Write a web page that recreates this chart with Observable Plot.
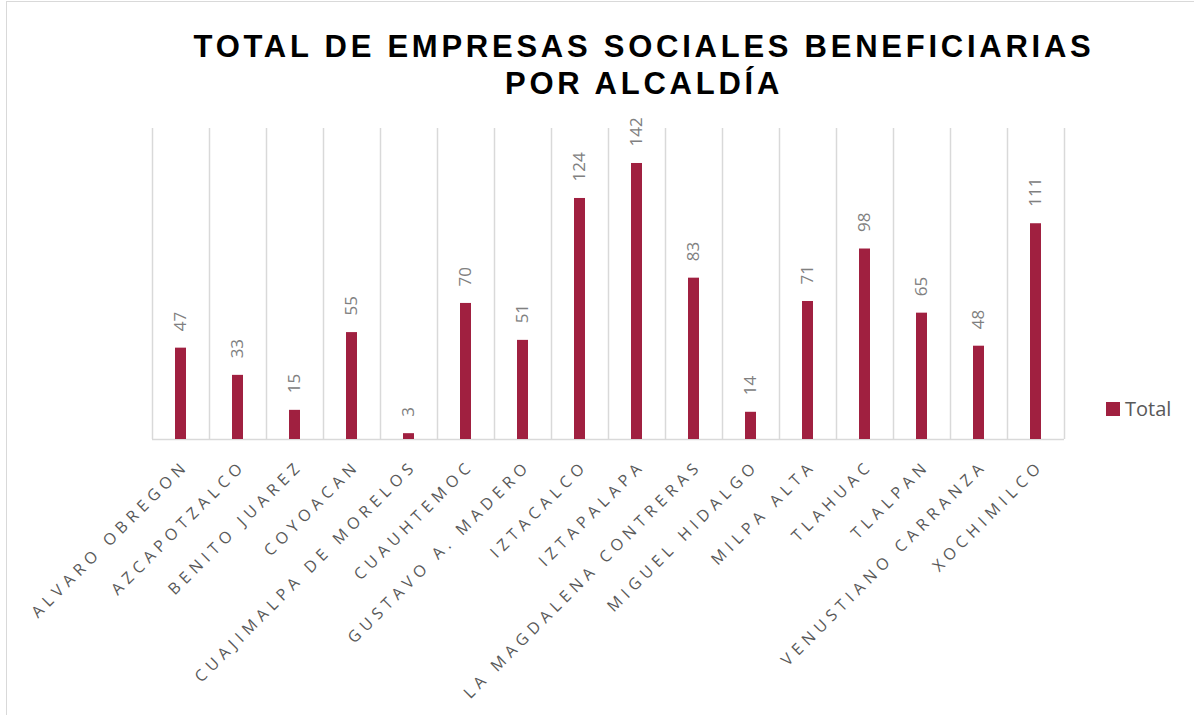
<!DOCTYPE html>
<html>
<head>
<meta charset="utf-8">
<script src="https://cdn.jsdelivr.net/npm/d3@7"></script>
<script src="https://cdn.jsdelivr.net/npm/@observablehq/plot@0.6"></script>
<style>
  body { margin: 0; background: #fff; }
  #wrap { position: relative; width: 1194px; height: 715px; overflow: hidden; font-family: "Open Sans", sans-serif; }
  #border { position: absolute; left: 6px; top: 1px; width: 1300px; height: 800px; border: 1.5px solid #d9d9d9; box-sizing: border-box; pointer-events: none; }
  #title { position: relative; height: 100px; width: 1288px; text-align: center; box-sizing: border-box; padding-top: 28px;
           font-family: "Liberation Sans", Arial, sans-serif; font-weight: bold; font-size: 31px; line-height: 37px; letter-spacing: 3.75px; color: #000; }
  #legend { position: absolute; left: 1106px; top: 395px; display: flex; align-items: center; font-size: 20px; color: #595959; }
  #legend .sw { width: 14px; height: 14px; background: #A02040; margin-right: 5px; }
  g[aria-description="xlabels"] text { letter-spacing: 5.2px; }
</style>
</head>
<body>
<div id="wrap">
  <div id="border"></div>
  <div id="title">TOTAL DE EMPRESAS SOCIALES BENEFICIARIAS<br>POR ALCALDÍA</div>
  <div id="chart"></div>
  <div id="legend"><div class="sw"></div><span>Total</span></div>
</div>
<script>
const names = ["ALVARO OBREGON","AZCAPOTZALCO","BENITO JUAREZ","COYOACAN","CUAJIMALPA DE MORELOS","CUAUHTEMOC","GUSTAVO A. MADERO","IZTACALCO","IZTAPALAPA","LA MAGDALENA CONTRERAS","MIGUEL HIDALGO","MILPA ALTA","TLAHUAC","TLALPAN","VENUSTIANO CARRANZA","XOCHIMILCO"];
const values = [47,33,15,55,3,70,51,124,142,83,14,71,98,65,48,111];
const yMax = 160;
const barColor = "#A02040";

const data = names.map((n, i) => ({name: n, value: values[i]}));
const W = 1194, H = 615, mL = 152, mR = 130;
const bw = (W - mL - mR) / names.length;

const chart = Plot.plot({
  width: W, height: H,
  marginTop: 28, marginBottom: 276, marginLeft: mL, marginRight: mR,
  x: {domain: names, padding: 0, axis: null},
  y: {domain: [0, yMax], axis: null},
  marks: [
    Plot.ruleX(names, {x: d => d, dx: -bw / 2, y1: 0, y2: yMax, stroke: "#d9d9d9", strokeWidth: 1.5}),
    Plot.ruleX([names[names.length - 1]], {x: d => d, dx: bw / 2, y1: 0, y2: yMax, stroke: "#d9d9d9", strokeWidth: 1.5}),
    Plot.ruleY([0], {stroke: "#d9d9d9", strokeWidth: 1.5}),
    Plot.barY(data, {x: "name", y: "value", fill: barColor, insetLeft: 23, insetRight: 23}),
    Plot.text(data, {x: "name", y: "value", text: d => String(d.value), rotate: -90, textAnchor: "start", dy: -17,
      fill: "#808080", fontSize: 17, fontFamily: "Open Sans"}),
    Plot.text(names, {x: d => d, y: 0, text: d => d, rotate: -45, textAnchor: "end", lineAnchor: "top", dx: 1, dy: 19,
      fill: "#595959", fontSize: 16, fontFamily: "Open Sans", ariaDescription: "xlabels"})
  ]
});
document.getElementById("chart").appendChild(chart);
</script>
</body>
</html>
